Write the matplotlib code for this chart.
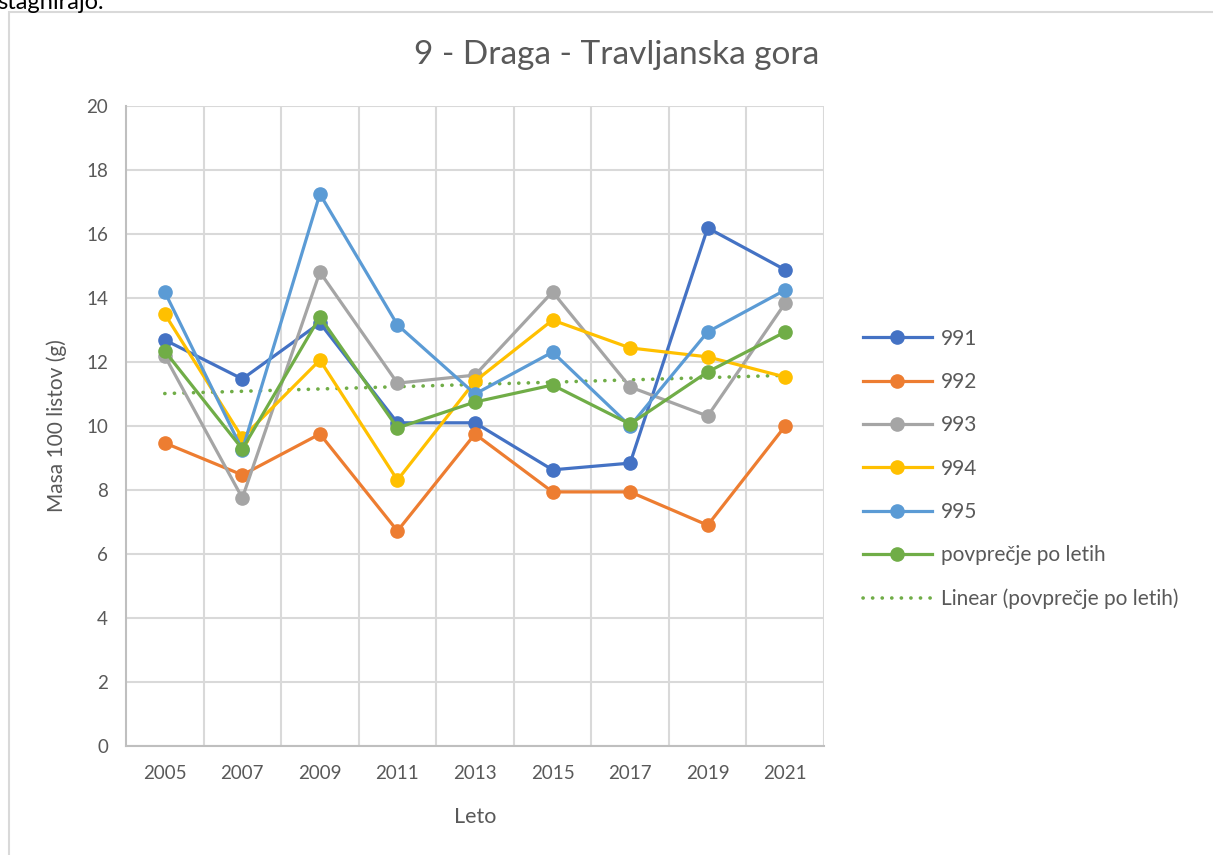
import numpy as np
import matplotlib.pyplot as plt
from matplotlib.patches import Rectangle

plt.rcParams['font.family'] = ['Lato', 'DejaVu Sans']

years = ["2005", "2007", "2009", "2011", "2013", "2015", "2017", "2019", "2021"]
s991 = [12.69, 11.47, 13.22, 10.10, 10.10, 8.63, 8.84, 16.19, 14.88]
s992 = [9.47, 8.47, 9.75, 6.72, 9.75, 7.94, 7.94, 6.90, 10.00]
s993 = [12.19, 7.75, 14.81, 11.34, 11.59, 14.19, 11.22, 10.31, 13.84]
s994 = [13.50, 9.63, 12.06, 8.31, 11.40, 13.31, 12.44, 12.16, 11.53]
s995 = [14.19, 9.25, 17.25, 13.16, 11.00, 12.31, 10.00, 12.94, 14.25]
avg = [12.34, 9.28, 13.41, 9.94, 10.75, 11.28, 10.06, 11.69, 12.94]

series = [("991", s991, "#4472C4"), ("992", s992, "#ED7D31"), ("993", s993, "#A5A5A5"),
          ("994", s994, "#FFC000"), ("995", s995, "#5B9BD5"),
          ("povprečje po letih", avg, "#70AD47")]

W, H = 1213, 855
fig = plt.figure(figsize=(W / 100, H / 100), dpi=100)
ax = fig.add_axes([126 / W, 1 - 746 / H, 698 / W, 640 / H])

# chart frame and the clipped line of text above it
fig.patches.append(Rectangle((9 / W, -0.01), 1.1, 1 - 12 / H + 0.01, transform=fig.transFigure,
                             fill=False, edgecolor="#D9D9D9", lw=1.5, zorder=0))
fig.text(-0.002, 1 - 9 / H, "stagnirajo.", fontsize=17, color="#000000", va="baseline", ha="left")

x = np.arange(len(years))
for name, vals, col in series:
    ax.plot(x, vals, color=col, lw=2.3, marker="o", ms=9.5, label=name, zorder=3)

# linear trend of the yearly average
coef = np.polyfit(x, avg, 1)
ax.plot(x, np.polyval(coef, x), color="#70AD47", lw=2.6, ls=(0, (0.05, 2.6)),
        dash_capstyle="round", label="Linear (povprečje po letih)", zorder=2)

ax.set_xlim(-0.5, len(years) - 0.5)
ax.set_ylim(0, 20)
ax.set_yticks(range(0, 21, 2))
ax.set_xticks(x)
ax.set_xticklabels(years)
ax.set_xticks(np.arange(0.5, len(years), 1), minor=True)
ax.grid(True, which="major", axis="y", color="#D9D9D9", lw=1.5)
ax.grid(True, which="minor", axis="x", color="#D9D9D9", lw=1.5)
ax.set_axisbelow(True)
ax.tick_params(axis="both", which="both", length=0, labelsize=13.5, colors="#595959")
ax.tick_params(axis="x", pad=14)
ax.tick_params(axis="y", pad=13)
for sp in ["top", "right"]:
    ax.spines[sp].set_visible(False)
for sp in ["left", "bottom"]:
    ax.spines[sp].set_color("#BFBFBF")
    ax.spines[sp].set_linewidth(1.5)

ax.set_xlabel("Leto", fontsize=15.5, color="#595959", labelpad=18)
ax.set_ylabel("Masa 100 listov (g)", fontsize=15, color="#595959", labelpad=14)
fig.text(617 / W, 1 - 55 / H, "9 - Draga - Travljanska gora", fontsize=24, color="#595959",
         ha="center", va="center")

leg = fig.legend(*ax.get_legend_handles_labels(), loc="center left",
                 bbox_to_anchor=(863 / W, 1 - 469 / H), frameon=False, fontsize=15,
                 labelspacing=1.12, handlelength=3.3, handletextpad=0.45,
                 borderpad=0, borderaxespad=0)
for t in leg.get_texts():
    t.set_color("#595959")

fig.savefig("out.png", dpi=100)
